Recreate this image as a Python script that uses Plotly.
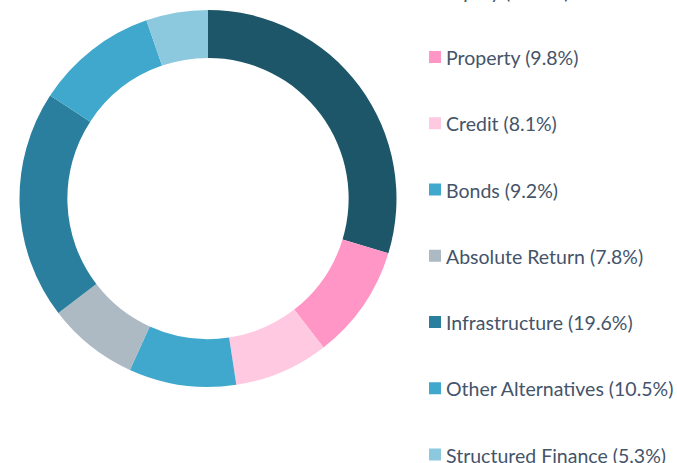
import plotly.graph_objects as go

categories = ["Equity", "Property", "Credit", "Bonds", "Absolute Return",
              "Infrastructure", "Other Alternatives", "Structured Finance"]
values = [29.7, 9.8, 8.1, 9.2, 7.8, 19.6, 10.5, 5.3]
colors = ["#1D5669", "#FF96C5", "#FFC9E1", "#40A8CC", "#ADBAC4",
          "#2A7F9E", "#40A8CC", "#8DC9DE"]

W, H = 677, 463

fig = go.Figure()
fig.add_trace(go.Pie(
    labels=categories, values=values, sort=False, direction="clockwise",
    rotation=0, hole=0.746, textinfo="none", hoverinfo="label+percent",
    marker=dict(colors=colors, line=dict(width=0)),
    domain=dict(x=[19 / W, 397 / W], y=[1 - 387 / H, 1 - 10 / H]),
    showlegend=False,
))

# custom legend
first_y = -9.25
gap = 66.25
shapes = []
annotations = []
for i, (c, v, col) in enumerate(zip(categories, values, colors)):
    yc = first_y + i * gap
    shapes.append(dict(type="rect", xref="paper", yref="paper",
                       x0=429 / W, x1=441 / W,
                       y0=1 - (yc + 6) / H, y1=1 - (yc - 6) / H,
                       fillcolor=col, line=dict(width=0)))
    annotations.append(dict(xref="paper", yref="paper", x=444 / W, y=1 - (yc + 0.5) / H,
                             xanchor="left", yanchor="middle", showarrow=False,
                             text=f"{c} ({v}%)",
                             font=dict(family="Lato", size=19.5, color="#44546A")))

fig.update_layout(
    width=W, height=H, margin=dict(l=0, r=0, t=0, b=0),
    paper_bgcolor="white", plot_bgcolor="white",
    shapes=shapes, annotations=annotations,
)
fig.write_html("out.html", config={"displayModeBar": False},
               post_script="document.body.style.margin='0';")
